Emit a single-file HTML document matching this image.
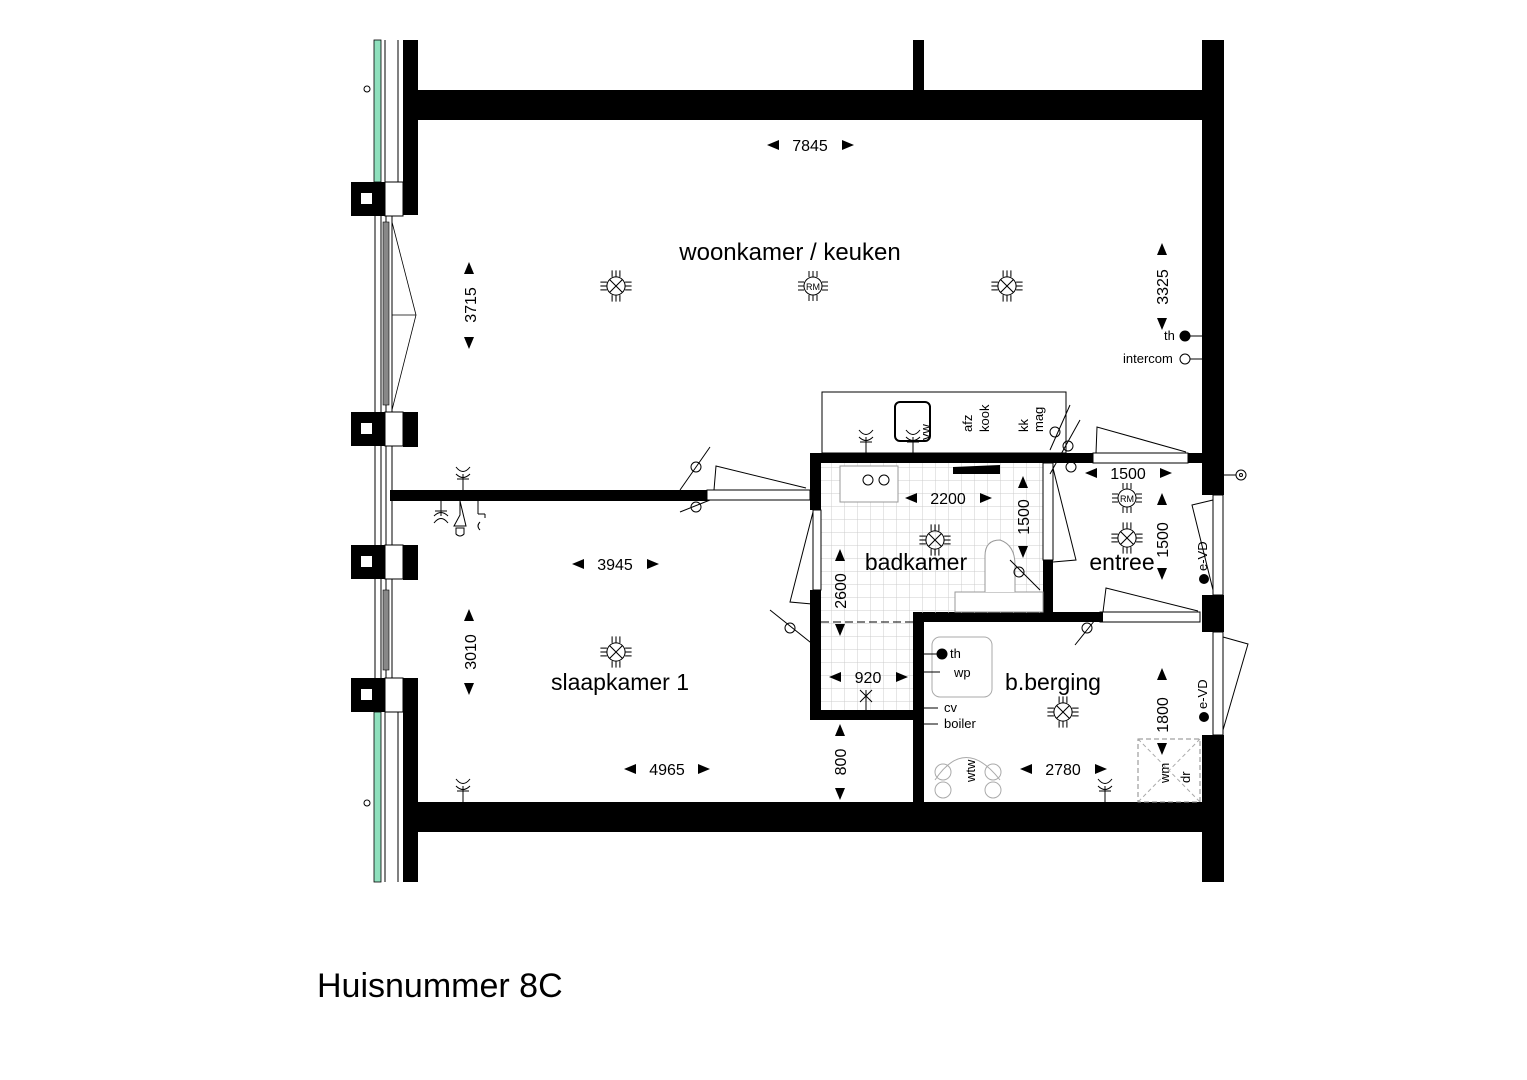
<!DOCTYPE html>
<html><head><meta charset="utf-8"><style>
html,body{margin:0;padding:0;background:#fff}
svg{display:block}
text{font-family:"Liberation Sans",Arial,sans-serif;fill:#000}
</style></head><body>
<svg width="1527" height="1080" viewBox="0 0 1527 1080" xmlns="http://www.w3.org/2000/svg">
<defs>
<g id="lamp0" fill="none" stroke="#000" stroke-width="0.8">
<circle r="7"/><line x1="-5" y1="-5" x2="5" y2="5"/><line x1="-5" y1="5" x2="5" y2="-5"/>
<line x1="-3" y1="-7" x2="-3" y2="-12"/><line x1="0" y1="-7" x2="0" y2="-12"/><line x1="3" y1="-7" x2="3" y2="-12"/>
<line x1="-3" y1="7" x2="-3" y2="12"/><line x1="0" y1="7" x2="0" y2="12"/><line x1="3" y1="7" x2="3" y2="12"/>
<line x1="-7" y1="-3" x2="-12" y2="-3"/><line x1="-7" y1="0" x2="-12" y2="0"/><line x1="-7" y1="3" x2="-12" y2="3"/>
<line x1="7" y1="-3" x2="12" y2="-3"/><line x1="7" y1="0" x2="12" y2="0"/><line x1="7" y1="3" x2="12" y2="3"/>
</g>
<g id="lamp"><use href="#lamp0" transform="scale(1.3)"/></g>
<g id="rmlamp" fill="none" stroke="#000" stroke-width="1">
<circle r="9"/>
<line x1="-4" y1="-9" x2="-4" y2="-15"/><line x1="0" y1="-9" x2="0" y2="-15"/><line x1="4" y1="-9" x2="4" y2="-15"/>
<line x1="-4" y1="9" x2="-4" y2="15"/><line x1="0" y1="9" x2="0" y2="15"/><line x1="4" y1="9" x2="4" y2="15"/>
<line x1="-9" y1="-4" x2="-15" y2="-4"/><line x1="-9" y1="0" x2="-15" y2="0"/><line x1="-9" y1="4" x2="-15" y2="4"/>
<line x1="9" y1="-4" x2="15" y2="-4"/><line x1="9" y1="0" x2="15" y2="0"/><line x1="9" y1="4" x2="15" y2="4"/>
</g>
<g id="sock" fill="none" stroke="#000" stroke-width="1">
<line x1="0" y1="0" x2="0" y2="-16"/><path d="M-7,-16 Q0,-9 7,-16 M-7,-23 Q0,-14 7,-23"/><line x1="-6" y1="-11" x2="6" y2="-11"/>
</g>
<g id="pillar"><rect x="351" y="0" width="34" height="34" fill="#000"/><rect x="361" y="11" width="11" height="11" fill="#fff"/><rect x="385" y="0" width="18" height="34" fill="#fff" stroke="#000"/></g>
<pattern id="tile" width="13" height="13" patternUnits="userSpaceOnUse"><path d="M13,0V13H0" fill="none" stroke="#ccc" stroke-width="1"/></pattern>
</defs>

<rect x="374" y="40" width="7" height="142" fill="#8fe0bd" stroke="#000" stroke-width="0.8"/>
<rect x="374" y="712" width="7" height="170" fill="#8fe0bd" stroke="#000" stroke-width="0.8"/>
<line x1="385" y1="40" x2="385" y2="182" stroke="#000"/><line x1="398" y1="40" x2="398" y2="182" stroke="#000"/>
<line x1="385" y1="712" x2="385" y2="882" stroke="#000"/><line x1="398" y1="712" x2="398" y2="882" stroke="#000"/>
<line x1="375" y1="215" x2="375" y2="678" stroke="#000"/><line x1="381" y1="215" x2="381" y2="678" stroke="#000"/>
<line x1="386" y1="215" x2="386" y2="678" stroke="#000"/><line x1="392" y1="215" x2="392" y2="678" stroke="#000"/>
<rect x="383" y="222" width="6" height="183" fill="#888" stroke="#000" stroke-width="0.6"/>
<rect x="383" y="590" width="6" height="80" fill="#888" stroke="#000" stroke-width="0.6"/>
<path d="M392,222 L416,315 L392,410 M392,315 L416,315" fill="none" stroke="#000" stroke-width="0.8"/>
<circle cx="367" cy="89" r="3" fill="none" stroke="#000"/>
<circle cx="367" cy="803" r="3" fill="none" stroke="#000"/>

<g fill="#000">
<rect x="403" y="40" width="15" height="175"/>
<rect x="403" y="90" width="821" height="30"/>
<rect x="913" y="40" width="11" height="55"/>
<rect x="1202" y="40" width="22" height="455"/>
<rect x="1202" y="595" width="22" height="37"/>
<rect x="1202" y="735" width="22" height="147"/>
<rect x="403" y="802" width="821" height="30"/>
<rect x="403" y="678" width="15" height="204"/>
<rect x="403" y="412" width="15" height="35"/>
<rect x="390" y="490" width="317" height="11"/>
<rect x="810" y="453" width="283" height="10"/>
<rect x="1188" y="453" width="14" height="10"/>
<rect x="810" y="453" width="11" height="57"/>
<rect x="810" y="590" width="11" height="130"/>
<rect x="810" y="710" width="114" height="10"/>
<rect x="913" y="612" width="11" height="190"/>
<rect x="913" y="612" width="190" height="10"/>
<rect x="1043" y="560" width="10" height="62"/>
</g>
<use href="#pillar" y="182"/><use href="#pillar" y="412"/><use href="#pillar" y="545"/><use href="#pillar" y="678"/>
<rect x="403" y="182" width="15" height="33" fill="#000"/><rect x="403" y="545" width="15" height="35" fill="#000"/>

<rect x="821" y="463" width="222" height="150" fill="url(#tile)"/>
<rect x="821" y="613" width="92" height="97" fill="url(#tile)"/>
<line x1="821" y1="622" x2="913" y2="622" stroke="#000" stroke-dasharray="8,4"/>
<rect x="840" y="466" width="58" height="36" fill="#fff" stroke="#999"/>
<rect x="955" y="592" width="88" height="20" fill="#fff" stroke="#999"/>
<path d="M985,592 V556 Q985,540 1000,540 Q1015,545 1015,565 V592" fill="#fff" stroke="#999"/>
<polygon points="953,467 1000,465 1000,474 953,474" fill="#000"/>
<circle cx="868" cy="480" r="5" fill="none" stroke="#000"/><circle cx="884" cy="480" r="5" fill="none" stroke="#000"/>

<rect x="822" y="392" width="244" height="61" fill="#fff" stroke="#000"/>
<rect x="895" y="402" width="35" height="39" rx="5" fill="none" stroke="#000" stroke-width="2"/>

<g fill="none" stroke="#000" stroke-width="1">
<rect x="707" y="490" width="103" height="10"/><path d="M714,490 L716,466 L806,488"/>
<rect x="1093" y="453" width="95" height="10"/><path d="M1096,453 L1097,427 L1186,452"/>
<rect x="1100" y="612" width="100" height="10"/><path d="M1103,612 L1106,588 L1198,611"/>
<rect x="813" y="510" width="8" height="80"/><path d="M813,512 L790,602 L812,604"/>
<rect x="1043" y="463" width="10" height="97"/><path d="M1053,468 L1076,560 L1053,562"/>
<rect x="1213" y="495" width="10" height="100"/><path d="M1213,500 L1192,505 L1213,590"/>
<rect x="1213" y="632" width="10" height="103"/><path d="M1223,637 L1248,644 L1223,730"/>
<circle cx="696" cy="467" r="5"/><circle cx="696" cy="507" r="5"/><circle cx="790" cy="628" r="5"/>
<circle cx="1055" cy="432" r="5"/><circle cx="1068" cy="446" r="5"/><circle cx="1071" cy="467" r="5"/>
<circle cx="1019" cy="572" r="5"/><circle cx="1087" cy="628" r="5"/>
<path d="M680,490 L710,447 M680,512 L710,500 M770,610 L820,650 M1050,450 L1070,405 M1050,474 L1080,420 M1010,560 L1040,590 M1075,645 L1095,620"/>
<rect x="1138" y="739" width="62" height="63" stroke="#888" stroke-dasharray="5,3"/>
<path d="M1138,739 L1200,802 M1200,739 L1138,802" stroke="#aaa" stroke-dasharray="4,3"/>
<rect x="932" y="637" width="60" height="60" rx="8" stroke="#aaa"/>
<path d="M935,780 Q965,735 1000,780" stroke="#aaa"/>
<circle cx="943" cy="772" r="8" stroke="#aaa"/><circle cx="943" cy="790" r="8" stroke="#aaa"/>
<circle cx="993" cy="772" r="8" stroke="#aaa"/><circle cx="993" cy="790" r="8" stroke="#aaa"/>
<circle cx="1241" cy="475" r="5"/><circle cx="1241" cy="475" r="1.5"/><line x1="1224" y1="475" x2="1236" y2="475"/>
<line x1="1188" y1="336" x2="1202" y2="336"/><line x1="1190" y1="359" x2="1202" y2="359"/>
<circle cx="1185" cy="359" r="5"/>
<path d="M866,713 V690 M860,690 L872,702 M872,690 L860,702"/>
<path d="M924,654 L937,654 M924,672 L940,672 M924,708 L938,708 M924,724 L938,724"/>
</g>
<circle cx="1185" cy="336" r="5.5" fill="#000"/>
<circle cx="942" cy="654" r="5.5" fill="#000"/>
<circle cx="1204" cy="579" r="5" fill="#000"/>
<circle cx="1204" cy="717" r="5" fill="#000"/>

<use href="#sock" x="463" y="490"/><use href="#sock" x="463" y="802"/><use href="#sock" x="866" y="453"/>
<use href="#sock" x="1105" y="802"/><use href="#sock" x="913" y="453"/>
<g transform="translate(441,500) scale(1,-1)"><use href="#sock"/></g>
<g fill="none" stroke="#000"><path d="M460,501 V515 L454,526 H466 Z M456,528 H464 V534 Q460,538 456,534 Z M478,501 V514 M478,514 H485 M485,514 V518 M480,530 Q476,526 480,522"/></g>

<use href="#lamp" x="616" y="286"/><use href="#lamp" x="1007" y="286"/><use href="#lamp" x="616" y="652"/>
<use href="#lamp" x="935" y="540"/><use href="#lamp" x="1127" y="538"/><use href="#lamp" x="1063" y="712"/>
<use href="#rmlamp" x="813" y="286"/><use href="#rmlamp" x="1127" y="498"/>
<text x="813" y="290" font-size="9" text-anchor="middle">RM</text>
<text x="1127" y="502" font-size="9" text-anchor="middle">RM</text>

<text x="790" y="260" font-size="24" text-anchor="middle">woonkamer / keuken</text>
<text x="916" y="570" font-size="23" text-anchor="middle">badkamer</text>
<text x="1122" y="570" font-size="23" text-anchor="middle">entree</text>
<text x="620" y="690" font-size="23" text-anchor="middle">slaapkamer 1</text>
<text x="1053" y="690" font-size="23" text-anchor="middle">b.berging</text>
<text x="317" y="997" font-size="34">Huisnummer 8C</text>

<g font-size="13">
<text x="1123" y="363">intercom</text>
<text x="1164" y="340">th</text>
<text x="950" y="658">th</text>
<text x="954" y="677">wp</text>
<text x="944" y="712">cv</text>
<text x="944" y="728">boiler</text>
</g>
<g font-size="13">
<text transform="translate(930,440) rotate(-90)">vw</text>
<text transform="translate(972,432) rotate(-90)">afz</text>
<text transform="translate(989,432) rotate(-90)">kook</text>
<text transform="translate(1028,432) rotate(-90)">kk</text>
<text transform="translate(1043,432) rotate(-90)">mag</text>
<text transform="translate(1207,571) rotate(-90)">e-VD</text>
<text transform="translate(1207,709) rotate(-90)">e-VD</text>
<text transform="translate(975,782) rotate(-90)">wtw</text>
<text transform="translate(1169,783) rotate(-90)">wm</text>
<text transform="translate(1190,783) rotate(-90)">dr</text>
</g>

<g font-size="16">
<text x="810" y="151" text-anchor="middle">7845</text>
<polygon points="767,145 779,140 779,150"/><polygon points="854,145 842,140 842,150"/>
<text x="615" y="570" text-anchor="middle">3945</text>
<polygon points="572,564 584,559 584,569"/><polygon points="659,564 647,559 647,569"/>
<text x="667" y="775" text-anchor="middle">4965</text>
<polygon points="624,769 636,764 636,774"/><polygon points="710,769 698,764 698,774"/>
<text x="948" y="504" text-anchor="middle">2200</text>
<polygon points="905,498 917,493 917,503"/><polygon points="992,498 980,493 980,503"/>
<text x="1128" y="479" text-anchor="middle">1500</text>
<polygon points="1085,473 1097,468 1097,478"/><polygon points="1172,473 1160,468 1160,478"/>
<text x="868" y="683" text-anchor="middle">920</text>
<polygon points="829,677 841,672 841,682"/><polygon points="908,677 896,672 896,682"/>
<text x="1063" y="775" text-anchor="middle">2780</text>
<polygon points="1020,769 1032,764 1032,774"/><polygon points="1107,769 1095,764 1095,774"/>
<text transform="translate(476,305) rotate(-90)" text-anchor="middle">3715</text>
<polygon points="469,262 464,274 474,274"/><polygon points="469,349 464,337 474,337"/>
<text transform="translate(476,652) rotate(-90)" text-anchor="middle">3010</text>
<polygon points="469,609 464,621 474,621"/><polygon points="469,695 464,683 474,683"/>
<text transform="translate(1168,287) rotate(-90)" text-anchor="middle">3325</text>
<polygon points="1162,243 1157,255 1167,255"/><polygon points="1162,330 1157,318 1167,318"/>
<text transform="translate(1029,517) rotate(-90)" text-anchor="middle">1500</text>
<polygon points="1023,476 1018,488 1028,488"/><polygon points="1023,558 1018,546 1028,546"/>
<text transform="translate(1168,540) rotate(-90)" text-anchor="middle">1500</text>
<polygon points="1162,493 1157,505 1167,505"/><polygon points="1162,580 1157,568 1167,568"/>
<text transform="translate(846,591) rotate(-90)" text-anchor="middle">2600</text>
<polygon points="840,549 835,561 845,561"/><polygon points="840,636 835,624 845,624"/>
<text transform="translate(846,762) rotate(-90)" text-anchor="middle">800</text>
<polygon points="840,724 835,736 845,736"/><polygon points="840,800 835,788 845,788"/>
<text transform="translate(1168,715) rotate(-90)" text-anchor="middle">1800</text>
<polygon points="1162,668 1157,680 1167,680"/><polygon points="1162,755 1157,743 1167,743"/>
</g>
</svg>
</body></html>
